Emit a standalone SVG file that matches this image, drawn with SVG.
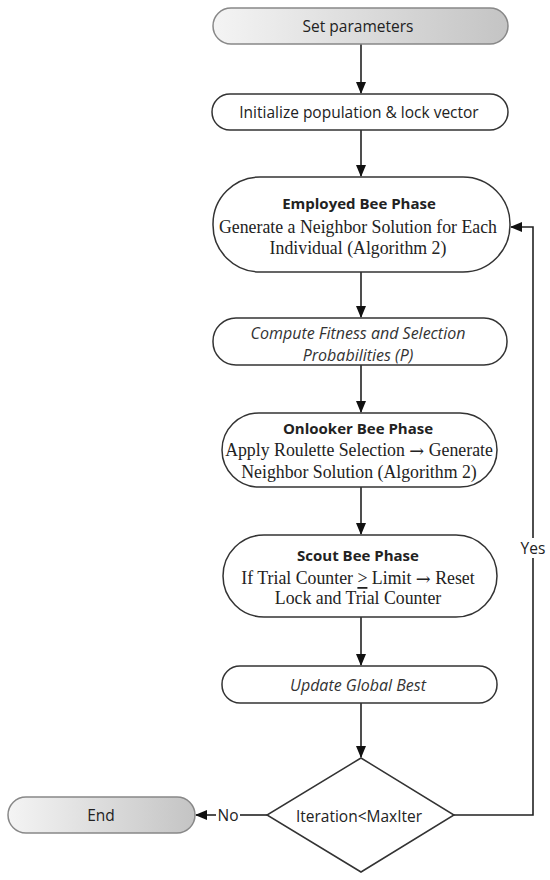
<svg xmlns="http://www.w3.org/2000/svg" width="550" height="880" viewBox="0 0 550 880">
<style>
.box{fill:#fff;stroke:#333;stroke-width:1.5}
.term{stroke:#888;stroke-width:1.5}
.line{fill:none;stroke:#222;stroke-width:1.6}
.sans{font-family:"Open Sans","Noto Sans",sans-serif;font-size:15.5px;fill:#222}
.bold{font-family:"Open Sans","Noto Sans",sans-serif;font-size:15px;font-weight:bold;fill:#222}
.ital{font-family:"Open Sans","Noto Sans",sans-serif;font-size:16px;font-style:italic;fill:#333}
.serif{font-family:"Liberation Serif","Times New Roman",serif;font-size:17.8px;fill:#222}
.arr{font-family:"DejaVu Serif",serif}
text{text-anchor:middle;dominant-baseline:central}
</style>
<defs>
<linearGradient id="g" x1="0" y1="0" x2="1" y2="0">
<stop offset="0" stop-color="#f4f4f4"/>
<stop offset="1" stop-color="#c4c4c4"/>
</linearGradient>
<marker id="ah" markerWidth="12" markerHeight="10" refX="11" refY="5" orient="auto" markerUnits="userSpaceOnUse">
<path d="M0,0 L12,5 L0,10 Z" fill="#111"/>
</marker>
</defs>
<g id="connectors">
<path class="line" d="M361,44 V93" marker-end="url(#ah)"/>
<path class="line" d="M361,130 V176" marker-end="url(#ah)"/>
<path class="line" d="M361,272 V317" marker-end="url(#ah)"/>
<path class="line" d="M361,365 V412" marker-end="url(#ah)"/>
<path class="line" d="M361,487 V534" marker-end="url(#ah)"/>
<path class="line" d="M361,617 V665" marker-end="url(#ah)"/>
<path class="line" d="M361,703 V757" marker-end="url(#ah)"/>
<path class="line" d="M454,815 H533 V227 H511" marker-end="url(#ah)"/>
<path class="line" d="M267,815 H240"/>
<path class="line" d="M216,815 H196" marker-end="url(#ah)"/>
<rect x="518" y="538" width="30" height="20" fill="#fff"/>
<text class="sans" x="533" y="548">Yes</text>
<text class="sans" x="228" y="815">No</text>
</g>
<g id="start">
<rect class="term" x="213" y="8" width="295" height="36" rx="18" fill="url(#g)"/>
<text class="sans" x="358" y="26">Set parameters</text>
</g>
<g id="init">
<rect class="box" x="212" y="94" width="296" height="36" rx="18"/>
<text class="sans" x="359" y="112">Initialize population &amp; lock vector</text>
</g>
<g id="employed">
<rect class="box" x="213" y="177" width="297" height="95" rx="47"/>
<text class="bold" x="359" y="203">Employed Bee Phase</text>
<text class="serif" x="358" y="227">Generate a Neighbor Solution for Each</text>
<text class="serif" x="358" y="248">Individual (Algorithm 2)</text>
</g>
<g id="fitness">
<rect class="box" x="213" y="318" width="294" height="47" rx="23"/>
<text class="ital" x="358" y="333">Compute Fitness and Selection</text>
<text class="ital" x="358" y="355">Probabilities (P)</text>
</g>
<g id="onlooker">
<rect class="box" x="222" y="413" width="275" height="74" rx="37"/>
<text class="bold" x="358" y="428">Onlooker Bee Phase</text>
<text class="serif" x="359" y="450">Apply Roulette Selection <tspan class="arr">→</tspan> Generate</text>
<text class="serif" x="359" y="472">Neighbor Solution (Algorithm 2)</text>
</g>
<g id="scout">
<rect class="box" x="223" y="535" width="274" height="82" rx="41"/>
<text class="bold" x="358" y="555">Scout Bee Phase</text>
<text class="serif" x="358" y="578">If Trial Counter <tspan text-decoration="underline">&gt;</tspan> Limit <tspan class="arr">→</tspan> Reset</text>
<text class="serif" x="358" y="598">Lock and Trial Counter</text>
</g>
<g id="update">
<rect class="box" x="222" y="666" width="275" height="37" rx="18"/>
<text class="ital" x="358" y="685">Update Global Best</text>
</g>
<g id="decision">
<path class="box" d="M361,758 L454,815 L361,872 L267,815 Z"/>
<text class="sans" x="359" y="816">Iteration&lt;MaxIter</text>
</g>
<g id="end">
<rect class="term" x="8" y="797" width="187" height="36" rx="18" fill="url(#g)"/>
<text class="sans" x="101" y="815">End</text>
</g>
</svg>
